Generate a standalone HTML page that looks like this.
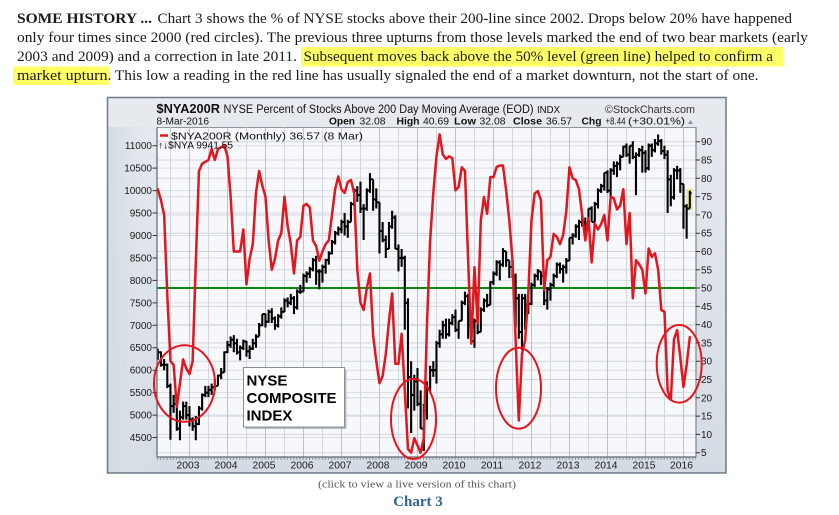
<!DOCTYPE html>
<html><head><meta charset="utf-8"><style>
html,body{margin:0;padding:0;background:#fff;}
svg{display:block;}
</style></head><body>
<svg width="839" height="515" viewBox="0 0 839 515" xmlns="http://www.w3.org/2000/svg">
<defs>
<linearGradient id="fr" x1="0" y1="0" x2="0" y2="1">
<stop offset="0" stop-color="#e7eaef"/><stop offset="1" stop-color="#d5dbe4"/>
</linearGradient>
<linearGradient id="lm" x1="0" y1="0" x2="1" y2="0">
<stop offset="0" stop-color="#d3dae3"/><stop offset="1" stop-color="#e3e7ed" stop-opacity="0"/>
</linearGradient>
<clipPath id="pc"><rect x="157" y="127.5" width="539" height="329.5"/></clipPath>
</defs>
<rect width="839" height="515" fill="#fff"/>

<!-- paragraph -->
<g font-family="'Liberation Serif', serif" font-size="15" fill="#1a1a1a">
<rect x="301" y="47" width="482" height="19.5" fill="#ffff66"/>
<rect x="13" y="66.5" width="96" height="18.5" fill="#ffff66"/>
<text x="17" y="23" font-weight="bold" textLength="135" lengthAdjust="spacingAndGlyphs">SOME HISTORY ...</text>
<text x="157.5" y="23" textLength="634.5" lengthAdjust="spacingAndGlyphs">Chart 3 shows the % of NYSE stocks above their 200-line since 2002. Drops below 20% have happened</text>
<text x="17" y="42" textLength="791" lengthAdjust="spacingAndGlyphs">only four times since 2000 (red circles). The previous three upturns from those levels marked the end of two bear markets (early</text>
<text x="17" y="61" textLength="280" lengthAdjust="spacingAndGlyphs">2003 and 2009) and a correction in late 2011.</text>
<text x="303.5" y="61" textLength="469.5" lengthAdjust="spacingAndGlyphs">Subsequent moves back above the 50% level (green line) helped to confirm a</text>
<text x="17" y="80" textLength="90.5" lengthAdjust="spacingAndGlyphs">market upturn</text>
<text x="107.5" y="80" textLength="651" lengthAdjust="spacingAndGlyphs">. This low a reading in the red line has usually signaled the end of a market downturn, not the start of one.</text>
</g>

<!-- chart frame -->
<rect x="107.5" y="97.5" width="618.5" height="375.5" fill="url(#fr)" stroke="#707a86" stroke-width="1.5"/>
<rect x="108.5" y="127" width="48" height="345" fill="url(#lm)"/>
<rect x="157" y="127.5" width="539" height="329.5" fill="#f6f8fc" stroke="#8d949e" stroke-width="1"/>

<!-- grid -->
<g stroke="#d9dde4" stroke-width="1">
<path d="M157 437.55H696M157 415.1H696M157 392.65H696M157 370.2H696M157 347.75H696M157 325.3H696M157 302.85H696M157 280.4H696M157 257.95H696M157 235.5H696M157 213.05H696M157 190.6H696M157 168.15H696M157 145.7H696"/>
</g>
<g stroke="#d2d7df" stroke-width="1">
<path d="M157 452.7H696M157 434.4H696M157 416.1H696M157 397.8H696M157 379.5H696M157 361.2H696M157 342.9H696M157 324.6H696M157 306.4H696M157 269.8H696M157 251.5H696M157 233.2H696M157 214.9H696M157 196.6H696M157 178.3H696M157 160H696M157 141.7H696"/>
<path d="M170.5 127.5V457M208.5 127.5V457M246.5 127.5V457M284.5 127.5V457M322.5 127.5V457M360.5 127.5V457M398.5 127.5V457M436.5 127.5V457M474.5 127.5V457M512.5 127.5V457M550.5 127.5V457M588.5 127.5V457M626.5 127.5V457M664.5 127.5V457"/>
</g>
<g stroke="#bcc2cb" stroke-width="1">
<path d="M189.5 127.5V457M227.5 127.5V457M265.5 127.5V457M303.5 127.5V457M341.5 127.5V457M379.5 127.5V457M417.5 127.5V457M455.5 127.5V457M493.5 127.5V457M531.5 127.5V457M569.5 127.5V457M607.5 127.5V457M645.5 127.5V457M683.5 127.5V457"/>
</g>

<!-- green 50% line -->
<line x1="157" y1="288" x2="696" y2="288" stroke="#0a8a0a" stroke-width="2"/>

<!-- yellow highlight last bar -->
<rect x="687" y="189.5" width="5" height="20.5" fill="#ffff70" stroke="#c9c65a" stroke-width="0.5"/>

<!-- NYSE bars -->
<g clip-path="url(#pc)">
<path transform="matrix(3.1667 0 0 -0.0449 157.8 639.6)" vector-effect="non-scaling-stroke" fill="none" stroke="#000" stroke-width="2.1" d="
M0 6480V6230M-.55 6300H0M0 6400H.55
M1 6420V6080M.45 6400H1M1 6120H1.55
M2 6250V6000M1.45 6120H2M2 6120H2.55
M3 6150V5600M2.45 6120H3M3 5650H3.55
M4 5700V4450M3.45 5650H4M4 5200H4.55
M5 5450V5050M4.45 5200H5M5 5250H5.55
M6 5300V4650M5.45 5250H6M6 4700H6.55
M7 5100V4440M6.45 4700H7M7 4950H7.55
M8 5300V4900M7.45 4950H8M8 5200H8.55
M9 5300V4900M8.45 5200H9M9 5000H9.55
M10 5200V4750M9.45 5000H10M10 4900H10.55
M11 4950V4650M10.45 4900H11M11 4750H11.55
M12 4980V4440M11.45 4750H12M12 4800H12.55
M13 5200V4780M12.45 4800H13M13 5150H13.55
M14 5480V5100M13.45 5150H14M14 5450H14.55
M15 5650V5400M14.45 5450H15M15 5500H15.55
M16 5650V5400M15.45 5500H16M16 5560H16.55
M17 5700V5450M16.45 5560H17M17 5620H17.55
M18 5800V5550M17.45 5620H18M18 5650H18.55
M19 5900V5650M18.45 5650H19M19 5880H19.55
M20 6050V5800M19.45 5880H20M20 5950H20.55
M21 6420V5950M20.45 5950H21M21 6400H21.55
M22 6650V6380M21.45 6400H22M22 6560H22.55
M23 6750V6500M22.45 6560H23M23 6680H23.55
M24 6780V6400M23.45 6680H24M24 6600H24.55
M25 6700V6350M24.45 6600H25M25 6400H25.55
M26 6550V6220M25.45 6400H26M26 6500H26.55
M27 6680V6450M26.45 6500H27M27 6640H27.55
M28 6650V6300M27.45 6640H28M28 6420H28.55
M29 6550V6250M28.45 6420H29M29 6480H29.55
M30 6700V6450M29.45 6480H30M30 6600H30.55
M31 6800V6500M30.45 6600H31M31 6750H31.55
M32 7050V6750M31.45 6750H32M32 7000H32.55
M33 7250V6980M32.45 7000H33M33 7250H33.55
M34 7260V6950M33.45 7250H34M34 7080H34.55
M35 7350V7050M34.45 7080H35M35 7300H35.55
M36 7380V7050M35.45 7300H36M36 7150H36.55
M37 7200V6900M36.45 7150H37M37 7000H37.55
M38 7250V6950M37.45 7000H38M38 7200H38.55
M39 7400V7150M38.45 7200H39M39 7300H39.55
M40 7600V7300M39.45 7300H40M40 7550H40.55
M41 7620V7400M40.45 7550H41M41 7500H41.55
M42 7700V7450M41.45 7500H42M42 7600H42.55
M43 7650V7250M42.45 7600H43M43 7400H43.55
M44 7800V7350M43.45 7400H44M44 7750H44.55
M45 7900V7700M44.45 7750H45M45 7750H45.55
M46 8150V7750M45.45 7750H46M46 8100H46.55
M47 8200V7950M46.45 8100H47M47 8150H47.55
M48 8300V8050M47.45 8150H48M48 8250H48.55
M49 8500V8200M48.45 8250H49M49 8450H49.55
M50 8550V7900M49.45 8450H50M50 8200H50.55
M51 8250V7800M50.45 8200H51M51 8200H51.55
M52 8350V7950M51.45 8200H52M52 8300H52.55
M53 8480V8150M52.45 8300H53M53 8450H53.55
M54 8650V8350M53.45 8450H54M54 8600H54.55
M55 8900V8580M54.45 8600H55M55 8850H55.55
M56 9100V8800M55.45 8850H56M56 9050H56.55
M57 9200V9000M56.45 9050H57M57 9140H57.55
M58 9350V9050M57.45 9140H58M58 9300H58.55
M59 9500V9000M58.45 9300H59M59 9200H59.55
M60 9350V8950M59.45 9200H60M60 9300H60.55
M61 9750V9300M60.45 9300H61M61 9700H61.55
M62 10050V9650M61.45 9700H62M62 10000H62.55
M63 10100V9750M62.45 10000H63M63 9900H63.55
M64 10200V9500M63.45 9900H64M64 9600H64.55
M65 9700V8900M64.45 9600H65M65 9600H65.55
M66 10050V9550M65.45 9600H66M66 10000H66.55
M67 10390V9950M66.45 10000H67M67 10250H67.55
M68 10250V9550M67.45 10250H68M68 9800H68.55
M69 10050V9600M68.45 9800H69M69 9740H69.55
M70 9740V8600M69.45 9740H70M70 9100H70.55
M71 9300V8850M70.45 9100H71M71 8900H71.55
M72 9000V8500M71.45 8900H72M72 8700H72.55
M73 9300V8700M72.45 8700H73M73 9200H73.55
M74 9550V9150M73.45 9200H74M74 9400H74.55
M75 9450V8700M74.45 9400H75M75 8700H75.55
M76 8800V8200M75.45 8700H76M76 8500H76.55
M77 8700V8300M76.45 8500H77M77 8500H77.55
M78 8550V6900M77.45 8500H78M78 7500H78.55
M79 7600V5150M78.45 7500H79M79 5850H79.55
M80 6200V4600M79.45 5850H80M80 5450H80.55
M81 5900V5100M80.45 5450H81M81 5750H81.55
M82 6050V5200M81.45 5750H82M82 5250H82.55
M83 5550V4700M82.45 5250H83M83 4700H83.55
M84 5250V4200M83.45 4700H84M84 5100H84.55
M85 5750V4900M84.45 5100H85M85 5600H85.55
M86 6100V5500M85.45 5600H86M86 6000H86.55
M87 6200V5850M86.45 6000H87M87 6000H87.55
M88 6650V5700M87.45 6000H88M88 6600H88.55
M89 6900V6500M88.45 6600H89M89 6800H89.55
M90 7100V6700M89.45 6800H90M90 7000H90.55
M91 7150V6700M90.45 7000H91M91 6800H91.55
M92 7150V6750M91.45 6800H92M92 7050H92.55
M93 7250V7000M92.45 7050H93M93 7180H93.55
M94 7350V6850M93.45 7180H94M94 6900H94.55
M95 7100V6700M94.45 6900H95M95 7100H95.55
M96 7550V7100M95.45 7100H96M96 7500H96.55
M97 7750V7450M96.45 7500H97M97 7650H97.55
M98 7700V6700M97.45 7650H98M98 7000H98.55
M99 7200V6600M98.45 7000H99M99 6650H99.55
M100 7150V6500M99.45 6650H100M100 7100H100.55
M101 7250V6800M100.45 7100H101M101 6850H101.55
M102 7400V6850M101.45 6850H102M102 7350H102.55
M103 7600V7300M102.45 7350H103M103 7550H103.55
M104 7700V7400M103.45 7550H104M104 7450H104.55
M105 7980V7450M104.45 7450H105M105 7960H105.55
M106 8200V7900M105.45 7960H106M106 8150H106.55
M107 8450V8100M106.45 8150H107M107 8400H107.55
M108 8450V8000M107.45 8400H108M108 8350H108.55
M109 8720V8300M108.45 8350H109M109 8650H109.55
M110 8650V8300M109.45 8650H110M110 8450H110.55
M111 8450V8050M110.45 8450H111M111 8300H111.55
M112 8500V8050M111.45 8300H112M112 8100H112.55
M113 8150V6950M112.45 8100H113M113 7600H113.55
M114 7700V6700M113.45 7600H114M114 6850H114.55
M115 7700V6450M114.45 6850H115M115 7600H115.55
M116 7700V6900M115.45 7600H116M116 7450H116.55
M117 7650V7250M116.45 7450H117M117 7480H117.55
M118 7950V7450M117.45 7480H118M118 7900H118.55
M119 8150V7850M118.45 7900H119M119 8100H119.55
M120 8250V8000M119.45 8100H120M120 8200H120.55
M121 8200V7900M120.45 8200H121M121 8100H121.55
M122 8100V7450M121.45 8100H122M122 7550H122.55
M123 7850V7350M122.45 7550H123M123 7800H123.55
M124 7950V7550M123.45 7800H124M124 7900H124.55
M125 8150V7850M124.45 7900H125M125 8100H125.55
M126 8400V8050M125.45 8100H126M126 8350H126.55
M127 8400V8150M126.45 8350H127M127 8250H127.55
M128 8350V7950M127.45 8250H128M128 8300H128.55
M129 8500V8150M128.45 8300H129M129 8440H129.55
M130 8950V8440M129.45 8440H130M130 8950H130.55
M131 9050V8800M130.45 8950H131M131 9000H131.55
M132 9250V8950M131.45 9000H132M132 9200H132.55
M133 9350V8900M132.45 9200H133M133 9300H133.55
M134 9450V9200M133.45 9300H134M134 9300H134.55
M135 9400V8900M134.45 9300H135M135 9150H135.55
M136 9600V9150M135.45 9150H136M136 9600H136.55
M137 9650V9300M136.45 9600H137M137 9300H137.55
M138 9750V9300M137.45 9300H138M138 9700H138.55
M139 10050V9600M138.45 9700H139M139 10000H139.55
M140 10150V9950M139.45 10000H140M140 10100H140.55
M141 10400V10000M140.45 10100H141M141 10400H141.55
M142 10450V9950M141.45 10400H142M142 10000H142.55
M143 10500V9800M142.45 10000H143M143 10450H143.55
M144 10650V10350M143.45 10450H144M144 10550H144.55
M145 10650V10300M144.45 10550H145M145 10600H145.55
M146 10800V10450M145.45 10600H146M146 10750H146.55
M147 11000V10750M146.45 10750H147M147 10980H147.55
M148 11050V10750M147.45 10980H148M148 10800H148.55
M149 11000V10600M148.45 10800H149M149 11000H149.55
M150 11100V10700M149.45 11000H150M150 10750H150.55
M151 10850V9900M150.45 10750H151M151 10800H151.55
M152 10950V10750M151.45 10800H152M152 10900H152.55
M153 11000V10400M152.45 10900H153M153 10840H153.55
M154 10900V10400M153.45 10840H154M154 10500H154.55
M155 11050V10450M154.45 10500H155M155 11000H155.55
M156 11050V10750M155.45 11000H156M156 10900H156.55
M157 11150V10850M156.45 10900H157M157 11050H157.55
M158 11250V11000M157.45 11050H158M158 11100H158.55
M159 11150V10800M158.45 11100H159M159 10880H159.55
M160 11000V10700M159.45 10880H160M160 10800H160.55
M161 10900V9500M160.45 10800H161M161 10250H161.55
M162 10350V9650M161.45 10250H162M162 9850H162.55
M163 10500V9800M162.45 9850H163M163 10450H163.55
M164 10550V10250M163.45 10450H164M164 10450H164.55
M165 10500V9950M164.45 10450H165M165 10150H165.55
M166 10150V9150M165.45 10150H166M166 9650H166.55
M167 9700V8930M166.45 9650H167M167 9600H167.55
M168 10000V9600M167.45 9600H168M168 9940H168.55"/>

<!-- red NYA200R line -->
<polyline transform="matrix(3.1667 0 0 -3.659 157.8 471)" vector-effect="non-scaling-stroke" fill="none" stroke="#e2171d" stroke-width="2.5" stroke-linejoin="round" stroke-linecap="round" points="0,77 1,74 2,70 3,48 4,30 5,29 6,17.5 7,24 8,30.5 9,28 10,26.5 11,30 12,57 13,82 14,84 15,84.5 16,85 17,88 18,85 19,88 20,88.5 21,89 22,86 23,75 24,60 25,60 26,60 27,66 28,51 29,58 30,62 31,76 32,82 33,78 34,75 35,63 36,55 37,58 38,63 39,65 40,75 41,67 42,62 43,54 44,63 45,64 46,72.5 47,73 48,72 49,63 50,61.5 51,57.5 52,60 53,62 54,63 55,70 56,77 57,80.5 58,77 59,76 60,79 61,79.5 62,76 63,55 64,46 65,44 66,50 67,54 68,37 69,30 70,24 71,26 72,32 73,41 74,48.5 75,29.3 76,29.3 77,37.5 78,22 79,6 80,5 81,9 82,7 83,5 84,9 85,40 86,63 87,76 88,86 89,92 90,86.5 91,85.3 92,86 93,85.5 94,76.7 95,77.6 96,83 97,82 98,57.6 99,34.8 100,55.7 101,40.3 102,68.5 103,74.9 104,70.3 105,80.3 106,80.3 107,83.1 108,83.5 109,83.5 110,76.7 111,68.5 112,57.6 113,35.7 114,13.8 115,32 116,35.7 117,48.5 118,68.5 119,75.8 120,76.5 121,74 122,49.4 123,57.6 124,58.5 125,64.8 126,64 127,62 128,64.5 129,71 130,83 131,80 132,79.5 133,77 134,70 135,63 136,69 137,57 138,67.6 139,66 140,67.5 141,70 142,63 143,75 144,74.5 145,71.5 146,72.5 147,77 148,62 149,70.5 150,47.2 151,57.6 152,56.5 153,55 154,48.5 155,60.8 156,58.5 157,59.5 158,55 159,44 160,43.5 161,22 162,19.5 163,36 164,38.5 165,31 166,23 167,29 168,36.6"/>
</g>

<!-- axes -->
<line x1="157" y1="127.5" x2="157" y2="457" stroke="#5f6772" stroke-width="1.2"/>
<line x1="696" y1="127.5" x2="696" y2="457" stroke="#7d858f" stroke-width="1.2"/>
<line x1="157" y1="457" x2="696" y2="457" stroke="#5f6772" stroke-width="1.2"/>
<line x1="157" y1="458.6" x2="696" y2="458.6" stroke="#8a9099" stroke-width="2.4" stroke-dasharray="1 2.1667"/>

<!-- ticks -->
<g stroke="#333" stroke-width="1">
<path d="M152.5 437.55H157M152.5 415.1H157M152.5 392.65H157M152.5 370.2H157M152.5 347.75H157M152.5 325.3H157M152.5 302.85H157M152.5 280.4H157M152.5 257.95H157M152.5 235.5H157M152.5 213.05H157M152.5 190.6H157M152.5 168.15H157M152.5 145.7H157"/>
<path d="M696 452.7H700M696 434.4H700M696 416.1H700M696 397.8H700M696 379.5H700M696 361.2H700M696 342.9H700M696 324.6H700M696 306.4H700M696 288H700M696 269.8H700M696 251.5H700M696 233.2H700M696 214.9H700M696 196.6H700M696 178.3H700M696 160H700M696 141.7H700"/>
</g>
<g font-family="'Liberation Sans', Arial, sans-serif" font-size="10" fill="#1a1a1a" text-anchor="end">
<text x="152" y="441">4500</text>
<text x="152" y="418.6">5000</text>
<text x="152" y="396.1">5500</text>
<text x="152" y="373.7">6000</text>
<text x="152" y="351.2">6500</text>
<text x="152" y="328.8">7000</text>
<text x="152" y="306.3">7500</text>
<text x="152" y="283.9">8000</text>
<text x="152" y="261.4">8500</text>
<text x="152" y="239">9000</text>
<text x="152" y="216.5">9500</text>
<text x="152" y="194.1">10000</text>
<text x="152" y="171.6">10500</text>
<text x="152" y="149.2">11000</text>
</g>
<g font-family="'Liberation Sans', Arial, sans-serif" font-size="10" fill="#1a1a1a">
<text x="701" y="456.2">5</text>
<text x="701" y="437.9">10</text>
<text x="701" y="419.6">15</text>
<text x="701" y="401.3">20</text>
<text x="701" y="383">25</text>
<text x="701" y="364.7">30</text>
<text x="701" y="346.4">35</text>
<text x="701" y="328.1">40</text>
<text x="701" y="309.9">45</text>
<text x="701" y="291.5">50</text>
<text x="701" y="273.3">55</text>
<text x="701" y="255">60</text>
<text x="701" y="236.7">65</text>
<text x="701" y="218.4">70</text>
<text x="701" y="200.1">75</text>
<text x="701" y="181.8">80</text>
<text x="701" y="163.5">85</text>
<text x="701" y="145.2">90</text>
</g>
<g font-family="'Liberation Sans', Arial, sans-serif" font-size="10.3" fill="#1a1a1a" text-anchor="middle">
<text x="188" y="468.5">2003</text>
<text x="226" y="468.5">2004</text>
<text x="264" y="468.5">2005</text>
<text x="302" y="468.5">2006</text>
<text x="340" y="468.5">2007</text>
<text x="378" y="468.5">2008</text>
<text x="416" y="468.5">2009</text>
<text x="454" y="468.5">2010</text>
<text x="492" y="468.5">2011</text>
<text x="530" y="468.5">2012</text>
<text x="568" y="468.5">2013</text>
<text x="606" y="468.5">2014</text>
<text x="644" y="468.5">2015</text>
<text x="681.5" y="468.5">2016</text>
</g>

<!-- red circles -->
<g fill="none" stroke="#e8141c" stroke-width="2">
<ellipse cx="184.5" cy="383.5" rx="30.5" ry="38.3"/>
<ellipse cx="413.5" cy="419" rx="22.5" ry="40"/>
<ellipse cx="518.5" cy="388.2" rx="22.5" ry="40.5"/>
<ellipse cx="679.2" cy="363.8" rx="22.5" ry="38.8"/>
</g>

<!-- NYSE composite box -->
<rect x="245.5" y="369.5" width="101" height="59.5" fill="#9aa0a8" opacity="0.7"/>
<rect x="243.5" y="367.5" width="101" height="59.5" fill="#fff" stroke="#8a8f96" stroke-width="1"/>
<g font-family="'Liberation Sans', Arial, sans-serif" font-size="15" font-weight="bold" fill="#000">
<text x="246.5" y="385.5">NYSE</text>
<text x="246.5" y="403" textLength="90" lengthAdjust="spacingAndGlyphs">COMPOSITE</text>
<text x="246.5" y="420.5">INDEX</text>
</g>

<!-- legend inside plot -->
<line x1="160" y1="135.5" x2="168" y2="135.5" stroke="#e2171d" stroke-width="2.5"/>
<g font-family="'Liberation Sans', Arial, sans-serif" fill="#111">
<text x="171" y="139.5" font-size="10.5" textLength="192" lengthAdjust="spacingAndGlyphs">$NYA200R (Monthly) 36.57 (8 Mar)</text>
<text x="158" y="148.5" font-size="10" textLength="75" lengthAdjust="spacingAndGlyphs">↑↓$NYA 9941.55</text>
</g>

<!-- header -->
<g font-family="'Liberation Sans', Arial, sans-serif" fill="#111">
<text x="156.5" y="113" font-size="13" font-weight="bold" textLength="63.5" lengthAdjust="spacingAndGlyphs">$NYA200R</text>
<text x="223.5" y="113" font-size="11.5" textLength="310" lengthAdjust="spacingAndGlyphs">NYSE Percent of Stocks Above 200 Day Moving Average (EOD)</text>
<text x="537" y="113" font-size="10" textLength="23" lengthAdjust="spacingAndGlyphs">INDX</text>
<text x="605" y="113" font-size="11" fill="#333" textLength="90" lengthAdjust="spacingAndGlyphs">©StockCharts.com</text>
<text x="156.5" y="124.5" font-size="10" textLength="52.5" lengthAdjust="spacingAndGlyphs">8-Mar-2016</text>
<g font-size="10.5">
<text x="329" y="124.5" font-weight="bold" textLength="26" lengthAdjust="spacingAndGlyphs">Open</text>
<text x="359.5" y="124.5" textLength="26" lengthAdjust="spacingAndGlyphs">32.08</text>
<text x="396.5" y="124.5" font-weight="bold" textLength="23" lengthAdjust="spacingAndGlyphs">High</text>
<text x="423" y="124.5" textLength="26" lengthAdjust="spacingAndGlyphs">40.69</text>
<text x="454" y="124.5" font-weight="bold" textLength="22" lengthAdjust="spacingAndGlyphs">Low</text>
<text x="479.5" y="124.5" textLength="26" lengthAdjust="spacingAndGlyphs">32.08</text>
<text x="513" y="124.5" font-weight="bold" textLength="29" lengthAdjust="spacingAndGlyphs">Close</text>
<text x="546" y="124.5" textLength="26" lengthAdjust="spacingAndGlyphs">36.57</text>
<text x="581.5" y="124.5" font-weight="bold" textLength="20" lengthAdjust="spacingAndGlyphs">Chg</text>
<text x="605.5" y="124.5" textLength="20" lengthAdjust="spacingAndGlyphs">+8.44</text>
<text x="628" y="124.5" textLength="57" lengthAdjust="spacingAndGlyphs">(+30.01%)</text>
</g>
</g>
<polygon points="688,124 693,124 690.5,120" fill="#8a9099"/>

<!-- caption -->
<text x="417" y="487.5" font-family="'Liberation Serif', serif" font-size="11" fill="#555" text-anchor="middle" textLength="198" lengthAdjust="spacingAndGlyphs">(click to view a live version of this chart)</text>
<text x="418" y="506" font-family="'Liberation Serif', serif" font-size="15" font-weight="bold" fill="#2e6491" text-anchor="middle">Chart 3</text>
</svg>
</body></html>
